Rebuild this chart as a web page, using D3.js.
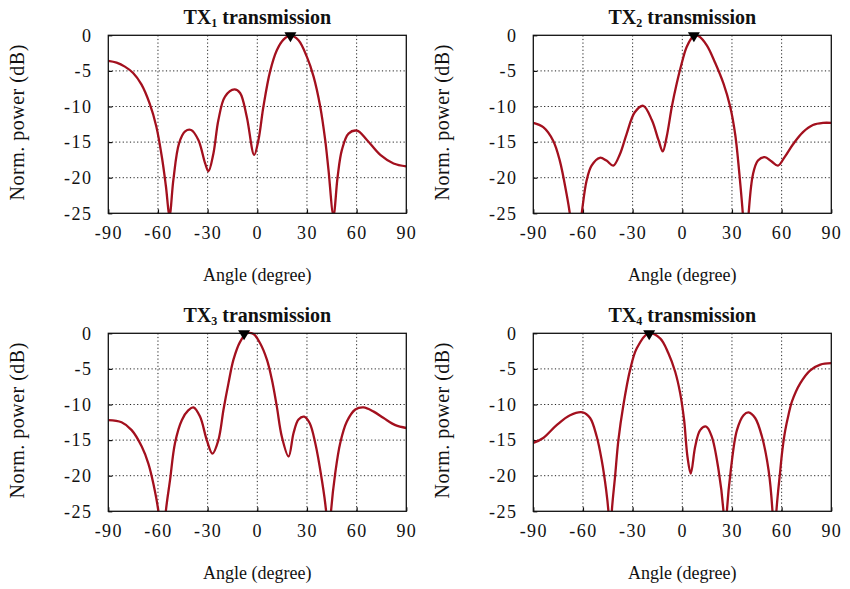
<!DOCTYPE html>
<html>
<head>
<meta charset="utf-8">
<script src="https://cdn.jsdelivr.net/npm/d3@7"></script>
<style>
  html, body { margin: 0; padding: 0; background: #fff; }
  text { font-family: "Liberation Serif", "DejaVu Serif", serif; fill: #111; }
</style>
</head>
<body>
<script>
// Normalised beam patterns of the four transmit channels: [angle (deg), power (dB)]
const tx1 = [[-90,-3.6],[-85,-3.85],[-80,-4.4],[-75,-5.3],[-70,-6.9],[-65,-9.6],[-61,-12.8],[-57.5,-17.3],
  [-55.2,-21.2],[-53,-25.3],[-50.7,-20.3],[-47.3,-15.2],[-43.6,-13.5],[-40,-13.3],[-35.6,-14.7],[-31.5,-18.0],
  [-29.5,-19.1],[-26.5,-16.6],[-23.5,-11.9],[-19.5,-8.6],[-13.8,-7.6],[-10.4,-8.1],[-6.4,-11.4],[-1.9,-16.8],
  [0.7,-14.7],[3.7,-10.0],[7.7,-5.1],[11.8,-2.1],[15.8,-0.6],[20.2,0],[24.9,-0.7],[29.9,-3.0],[34,-5.8],[38,-10.0],
  [41,-14.7],[43,-18.9],[46,-25.3],[48.5,-19.9],[51.1,-16.1],[55.1,-13.8],[60.2,-13.4],[66.2,-14.7],[74.3,-16.8],
  [82.3,-18.0],[90,-18.4]];

const tx2 = [[-90,-12.3],[-84,-12.9],[-78,-14.8],[-74,-17.6],[-69.9,-22.3],[-67.9,-25.1],[-64.5,-32],[-60.8,-25.1],
  [-57.8,-20.4],[-54.8,-18.3],[-49.8,-17.2],[-45.8,-17.6],[-41.7,-18.3],[-37.7,-16.7],[-33.7,-13.9],[-28.7,-10.8],
  [-23.6,-9.9],[-18.4,-11.9],[-14.4,-14.7],[-11.8,-16.3],[-9.4,-14.2],[-6.3,-10.0],[-3.3,-6.7],[-0.3,-3.9],
  [2.7,-1.6],[6.8,-0.1],[8.3,0],[9.8,-0.1],[14.8,-1.4],[19.9,-3.9],[24.9,-6.8],[28.9,-10.0],[32,-14.0],[35,-20.8],
  [36.6,-25.2],[38.3,-32],[40,-25.2],[42.7,-19.5],[45.7,-17.6],[49.8,-17.1],[53.8,-17.7],[57.8,-18.3],[61.8,-17.1],
  [66.9,-15.3],[72.9,-13.6],[78.9,-12.6],[85,-12.3],[90,-12.3]];

const tx3 = [[-90,-12.2],[-82,-12.5],[-75.9,-13.6],[-69.8,-15.9],[-65.8,-18.3],[-62.8,-21.1],[-59.7,-25.1],[-57.5,-32],
  [-55.3,-25.1],[-52.7,-20.6],[-49.7,-15.4],[-45.6,-12.2],[-41.6,-10.8],[-38.6,-10.4],[-34.6,-11.7],[-30.5,-15.0],
  [-27.1,-16.9],[-23.5,-15.0],[-20.4,-10.7],[-17.4,-7.0],[-14.4,-3.7],[-10.4,-1.2],[-6.3,0],[-2.3,-0.1],[1.7,-1.4],
  [5.8,-3.7],[8.8,-6.5],[11.8,-10.3],[14.8,-14.5],[18.9,-17.3],[21.9,-14.0],[24.9,-12.1],[28.3,-11.7],[31.6,-12.6],
  [35,-15.4],[39,-20.6],[41.6,-25.1],[43,-32],[44.5,-25.1],[47.1,-19.6],[50.1,-15.4],[54.1,-12.4],[59.2,-10.7],
  [64.2,-10.4],[70.3,-11.0],[76.3,-11.9],[83.4,-12.9],[90,-13.3]];

const tx4 = [[-90,-15.4],[-84,-14.7],[-75.9,-12.9],[-67.8,-11.5],[-60.2,-11.1],[-55.7,-11.9],[-51.7,-14.5],
  [-48.7,-17.8],[-46,-22],[-44.6,-25.1],[-43.6,-32],[-42.6,-25.1],[-40.6,-20.1],[-38.6,-15.0],[-35.6,-10.1],
  [-31.5,-5.1],[-27.5,-2.1],[-20.5,0],[-13.4,-0.7],[-8.4,-2.8],[-4.3,-5.4],[-1.3,-8.4],[1.1,-12.2],[3.1,-17.3],
  [5.1,-19.7],[7.8,-15.9],[10.8,-13.6],[14.4,-13.1],[17.8,-14.5],[21.9,-19.2],[24.9,-25.1],[25.9,-32],[26.9,-25.1],
  [29.3,-19.2],[33,-13.6],[37,-11.5],[40,-11.1],[44,-11.9],[48.1,-14.5],[52.1,-19.2],[54.5,-25.1],[55.6,-32],
  [56.8,-25.1],[59.2,-19.2],[60.5,-16.3],[62.2,-13.6],[64.2,-11.4],[66.2,-9.6],[71.3,-7.0],[77.3,-5.2],[83.4,-4.4],
  [90,-4.2]];

const patterns = [tx1, tx2, tx3, tx4];
const channels = ["1", "2", "3", "4"];
const peakAngles = [20, 7, -8, -20];
const angleTicks = [-90, -60, -30, 0, 30, 60, 90];
const powerTicks = [0, -5, -10, -15, -20, -25];

const W = 850, H = 589;
const plotW = 298, plotH = 178;
const lefts = [108.3, 533.3];
const tops = [35.3, 333.3];
const lineColor = "#a3101e";

const svg = d3.select("body").append("svg").attr("width", W).attr("height", H);

patterns.forEach((data, i) => {
  const col = i % 2, row = Math.floor(i / 2);
  const x0 = lefts[col], y0 = tops[row];
  const x = d3.scaleLinear().domain([-90, 90]).range([x0, x0 + plotW]);
  const y = d3.scaleLinear().domain([-25, 0]).range([y0 + plotH, y0]);
  const g = svg.append("g");

  // dotted grid
  g.append("g").selectAll("line").data(angleTicks.slice(1, -1)).join("line")
    .attr("x1", d => x(d)).attr("x2", d => x(d)).attr("y1", y0).attr("y2", y0 + plotH)
    .attr("stroke", "#222").attr("stroke-width", 1).attr("stroke-dasharray", "1.2,2.4");
  g.append("g").selectAll("line").data(powerTicks.slice(1, -1)).join("line")
    .attr("x1", x0).attr("x2", x0 + plotW).attr("y1", d => y(d)).attr("y2", d => y(d))
    .attr("stroke", "#222").attr("stroke-width", 1).attr("stroke-dasharray", "1.2,2.4");

  // axes with inward ticks; plain hyphen for negative labels
  const fmt = d => String(d);
  const xAxis = g.append("g").attr("transform", `translate(0,${y0 + plotH})`)
    .call(d3.axisBottom(x).tickValues(angleTicks).tickFormat(fmt).tickSizeInner(-4).tickSizeOuter(0).tickPadding(22));
  const yAxis = g.append("g").attr("transform", `translate(${x0},0)`)
    .call(d3.axisLeft(y).tickValues(powerTicks).tickFormat(fmt).tickSizeInner(-4).tickSizeOuter(0).tickPadding(16));
  [xAxis, yAxis].forEach(a => {
    a.select(".domain").remove();
    a.selectAll(".tick line").attr("stroke", "#111").attr("stroke-width", 1.2);
    a.selectAll(".tick text").attr("font-size", 18).attr("letter-spacing", 1.4)
      .attr("font-family", "Liberation Serif").attr("fill", "#111");
  });
  xAxis.selectAll(".tick text").attr("dy", "0.2em");

  // curve clipped to the plotting area
  const clipId = "clip" + i;
  svg.append("clipPath").attr("id", clipId).append("rect")
    .attr("x", x0).attr("y", y0 - 2).attr("width", plotW).attr("height", plotH + 2);
  const line = d3.line().x(d => x(d[0])).y(d => y(d[1])).curve(d3.curveCatmullRom.alpha(0.5));
  g.append("path").datum(data).attr("clip-path", `url(#${clipId})`)
    .attr("d", line).attr("fill", "none").attr("stroke", lineColor).attr("stroke-width", 2.3)
    .attr("stroke-linejoin", "round");

  // frame
  g.append("rect").attr("x", x0).attr("y", y0).attr("width", plotW).attr("height", plotH)
    .attr("fill", "none").attr("stroke", "#111").attr("stroke-width", 1.3);

  // peak marker
  const mx = x(peakAngles[i]), my = y(0);
  g.append("path")
    .attr("d", `M${mx - 6},${my - 3}L${mx + 6},${my - 3}L${mx},${my + 7}Z`)
    .attr("fill", "#000");

  // title
  const t = g.append("text").attr("x", x0 + plotW / 2).attr("y", y0 - 11)
    .attr("text-anchor", "middle").attr("font-size", 20).attr("font-weight", "bold");
  t.append("tspan").text("TX");
  t.append("tspan").text(channels[i]).attr("font-size", 12).attr("dy", 3);
  t.append("tspan").text(" transmission").attr("dy", -3);

  // axis titles
  g.append("text").attr("x", x0 + plotW / 2).attr("y", y0 + plotH + 68)
    .attr("text-anchor", "middle").attr("font-size", 18).text("Angle (degree)");
  g.append("text").attr("transform", `translate(${x0 - 91},${y0 + plotH / 2 - 2}) rotate(-90)`)
    .attr("text-anchor", "middle").attr("dominant-baseline", "central")
    .attr("font-size", 20).attr("letter-spacing", 0.5).text("Norm. power (dB)");
});
</script>
</body>
</html>
